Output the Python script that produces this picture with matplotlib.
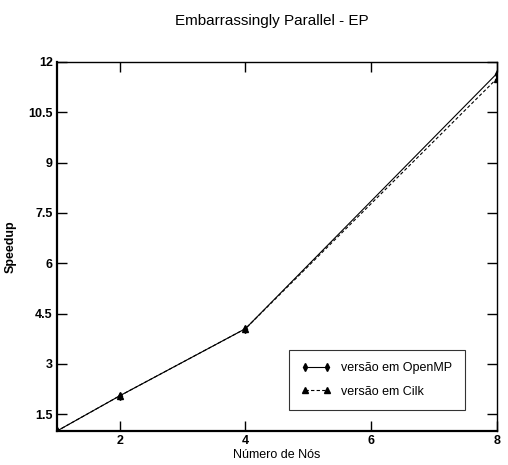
import matplotlib
matplotlib.use('Agg')
import matplotlib.pyplot as plt

plt.rcParams['font.family'] = ['Liberation Sans', 'DejaVu Sans']

# data
nos = [1, 2, 4, 8]
openmp = [1.0, 2.05, 4.05, 11.65]
cilk = [1.0, 2.05, 4.05, 11.5]
yticks = [1.5, 3, 4.5, 6, 7.5, 9, 10.5, 12]
xticks = [2, 4, 6, 8]

fig = plt.figure(figsize=(5.08, 4.65), dpi=100)
ax = fig.add_axes([0.112, 0.073, 0.866, 0.794])

ax.plot(nos, openmp, color='black', lw=0.8, marker='d', ms=4,
        label='versão em OpenMP')
ax.plot(nos, cilk, color='black', lw=0.8, ls=(0, (3, 2)), marker='^', ms=4,
        label='versão em Cilk')

ax.set_xlim(1, 8)
ax.set_ylim(1, 12)
ax.set_xticks(xticks)
ax.set_yticks(yticks)
ax.set_yticklabels(['1.5', '3', '4.5', '6', '7.5', '9', '10.5', '12'])
ax.tick_params(direction='in', length=7, width=1, top=True, right=True,
               labelsize=9, pad=3)
for lab in ax.get_xticklabels() + ax.get_yticklabels():
    lab.set_fontweight('bold')
for s in ax.spines.values():
    s.set_linewidth(1.0)
ax.spines['left'].set_linewidth(1.6)
ax.spines['bottom'].set_linewidth(1.6)

ax.set_xlabel('Número de Nós', fontsize=9, labelpad=1)
ax.set_ylabel('Speedup', fontsize=9, labelpad=8, fontweight='bold')
fig.text(0.535, 0.955, 'Embarrassingly Parallel - EP', ha='center',
         va='center', fontsize=11)

leg = ax.legend(loc='lower right', bbox_to_anchor=(0.927, 0.057),
                borderaxespad=0, numpoints=2,
                fancybox=False, edgecolor='black', fontsize=9,
                handlelength=2.4, borderpad=1.0, labelspacing=0.9)
leg.get_frame().set_linewidth(0.8)

fig.savefig('out.png', dpi=100)
